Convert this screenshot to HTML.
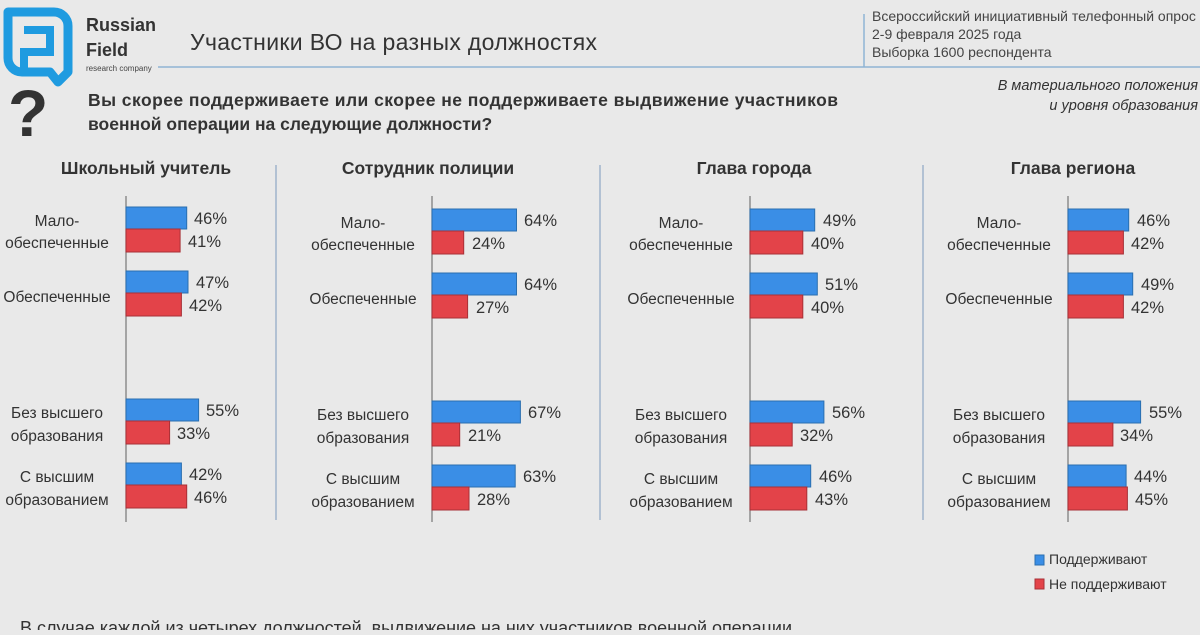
<!DOCTYPE html>
<html><head><meta charset="utf-8"><style>
html,body{margin:0;padding:0;background:#e9e9e9;}
body{width:1200px;height:630px;overflow:hidden;position:relative;font-family:"Liberation Sans","DejaVu Sans",sans-serif;}
</style></head><body>
<svg width="1200" height="630" viewBox="0 0 1200 630" xmlns="http://www.w3.org/2000/svg" font-family="Liberation Sans, DejaVu Sans, sans-serif">
<rect width="1200" height="630" fill="#e9e9e9"/>
<path d="M8 12 h46 a14 14 0 0 1 14 14 v46 l-10 10 l-8 -10 h-28 a14 14 0 0 1 -14 -14 z" fill="none" stroke="#1f9be0" stroke-width="9" stroke-linejoin="round"/>
<path d="M24 30 h26 v22 h-26 v20" fill="none" stroke="#1f9be0" stroke-width="8"/>
<text x="86" y="31" font-size="18" font-weight="bold" fill="#333">Russian</text>
<text x="86" y="56" font-size="18" font-weight="bold" fill="#333">Field</text>
<text x="86" y="71" font-size="8" fill="#444">research company</text>
<text x="190" y="50" font-size="23" fill="#333" textLength="407">Участники ВО на разных должностях</text>
<line x1="158" y1="67" x2="1200" y2="67" stroke="#8fb4d4" stroke-width="1.5"/>
<line x1="864" y1="14" x2="864" y2="67" stroke="#8fb4d4" stroke-width="1.5"/>
<text x="872" y="21" font-size="14" fill="#444">Всероссийский инициативный телефонный опрос</text>
<text x="872" y="39" font-size="14" fill="#444">2-9 февраля 2025 года</text>
<text x="872" y="57" font-size="14" fill="#444">Выборка 1600 респондента</text>
<text x="1198" y="90" font-size="14.5" font-style="italic" fill="#333" text-anchor="end">В материального положения</text>
<text x="1198" y="110" font-size="14.5" font-style="italic" fill="#333" text-anchor="end">и уровня образования</text>
<text x="8" y="136" font-size="66" font-weight="bold" fill="#333">?</text>
<text x="88" y="106" font-size="17.5" font-weight="bold" fill="#333" textLength="750">Вы скорее поддерживаете или скорее не поддерживаете выдвижение участников</text>
<text x="88" y="130" font-size="17.5" font-weight="bold" fill="#333">военной операции на следующие должности?</text>
<g font-size="17.5" font-weight="bold" fill="#333" text-anchor="middle">
<text x="146" y="174">Школьный учитель</text>
<text x="428" y="174">Сотрудник полиции</text>
<text x="754" y="174">Глава города</text>
<text x="1073" y="174">Глава региона</text>
</g>
<g stroke="#9fb4cc" stroke-width="1.5">
<line x1="276" y1="165" x2="276" y2="520"/><line x1="600" y1="165" x2="600" y2="520"/><line x1="923" y1="165" x2="923" y2="520"/>
</g>
<defs>
<g id="lbl" font-size="15.5" fill="#333" text-anchor="middle">
<text x="-69" y="226">Мало-</text><text x="-69" y="248">обеспеченные</text>
<text x="-69" y="302">Обеспеченные</text>
<text x="-69" y="418">Без высшего</text><text x="-69" y="441">образования</text>
<text x="-69" y="482">С высшим</text><text x="-69" y="505">образованием</text>
</g>
</defs>
<g transform="translate(126,0)" font-size="16.5" fill="#333">
<line x1="0" y1="196" x2="0" y2="522" stroke="#777" stroke-width="1.2"/>
<use href="#lbl"/>
<g stroke="#2a6fb0" stroke-width="1"><rect x="0" y="207" width="60.7" height="22" fill="#3a8ee6"/><rect x="0" y="271" width="62" height="22" fill="#3a8ee6"/><rect x="0" y="399" width="72.6" height="22" fill="#3a8ee6"/><rect x="0" y="463" width="55.4" height="22" fill="#3a8ee6"/></g>
<g stroke="#a83036" stroke-width="1"><rect x="0" y="229" width="54.1" height="23" fill="#e34349"/><rect x="0" y="293" width="55.4" height="23" fill="#e34349"/><rect x="0" y="421" width="43.6" height="23" fill="#e34349"/><rect x="0" y="485" width="60.7" height="23" fill="#e34349"/></g>
<text x="68" y="224">46%</text><text x="62" y="247">41%</text><text x="70" y="288">47%</text><text x="63" y="311">42%</text>
<text x="80" y="416">55%</text><text x="51" y="439">33%</text><text x="63" y="480">42%</text><text x="68" y="503">46%</text>
</g>
<g transform="translate(432,2)" font-size="16.5" fill="#333">
<line x1="0" y1="194" x2="0" y2="520" stroke="#777" stroke-width="1.2"/>
<use href="#lbl"/>
<g stroke="#2a6fb0"><rect x="0" y="207" width="84.5" height="22" fill="#3a8ee6"/><rect x="0" y="271" width="84.5" height="22" fill="#3a8ee6"/><rect x="0" y="399" width="88.4" height="22" fill="#3a8ee6"/><rect x="0" y="463" width="83.2" height="22" fill="#3a8ee6"/></g>
<g stroke="#a83036"><rect x="0" y="229" width="31.7" height="23" fill="#e34349"/><rect x="0" y="293" width="35.6" height="23" fill="#e34349"/><rect x="0" y="421" width="27.7" height="23" fill="#e34349"/><rect x="0" y="485" width="37" height="23" fill="#e34349"/></g>
<text x="92" y="224">64%</text><text x="40" y="247">24%</text><text x="92" y="288">64%</text><text x="44" y="311">27%</text>
<text x="96" y="416">67%</text><text x="36" y="439">21%</text><text x="91" y="480">63%</text><text x="45" y="503">28%</text>
</g>
<g transform="translate(750,2)" font-size="16.5" fill="#333">
<line x1="0" y1="194" x2="0" y2="520" stroke="#777" stroke-width="1.2"/>
<use href="#lbl"/>
<g stroke="#2a6fb0"><rect x="0" y="207" width="64.7" height="22" fill="#3a8ee6"/><rect x="0" y="271" width="67.3" height="22" fill="#3a8ee6"/><rect x="0" y="399" width="73.9" height="22" fill="#3a8ee6"/><rect x="0" y="463" width="60.7" height="22" fill="#3a8ee6"/></g>
<g stroke="#a83036"><rect x="0" y="229" width="52.8" height="23" fill="#e34349"/><rect x="0" y="293" width="52.8" height="23" fill="#e34349"/><rect x="0" y="421" width="42.2" height="23" fill="#e34349"/><rect x="0" y="485" width="56.8" height="23" fill="#e34349"/></g>
<text x="73" y="224">49%</text><text x="61" y="247">40%</text><text x="75" y="288">51%</text><text x="61" y="311">40%</text>
<text x="82" y="416">56%</text><text x="50" y="439">32%</text><text x="69" y="480">46%</text><text x="65" y="503">43%</text>
</g>
<g transform="translate(1068,2)" font-size="16.5" fill="#333">
<line x1="0" y1="194" x2="0" y2="520" stroke="#777" stroke-width="1.2"/>
<use href="#lbl"/>
<g stroke="#2a6fb0"><rect x="0" y="207" width="60.7" height="22" fill="#3a8ee6"/><rect x="0" y="271" width="64.7" height="22" fill="#3a8ee6"/><rect x="0" y="399" width="72.6" height="22" fill="#3a8ee6"/><rect x="0" y="463" width="58.1" height="22" fill="#3a8ee6"/></g>
<g stroke="#a83036"><rect x="0" y="229" width="55.4" height="23" fill="#e34349"/><rect x="0" y="293" width="55.4" height="23" fill="#e34349"/><rect x="0" y="421" width="44.9" height="23" fill="#e34349"/><rect x="0" y="485" width="59.4" height="23" fill="#e34349"/></g>
<text x="69" y="224">46%</text><text x="63" y="247">42%</text><text x="73" y="288">49%</text><text x="63" y="311">42%</text>
<text x="81" y="416">55%</text><text x="52" y="439">34%</text><text x="66" y="480">44%</text><text x="67" y="503">45%</text>
</g>
<rect x="1035" y="555" width="9" height="10" fill="#3a8ee6" stroke="#2a6fb0"/>
<text x="1049" y="564" font-size="14" fill="#333">Поддерживают</text>
<rect x="1035" y="579" width="9" height="10" fill="#e34349" stroke="#a83036"/>
<text x="1049" y="589" font-size="14" fill="#333">Не поддерживают</text>
<text x="20" y="634" font-size="18" fill="#333" textLength="772">В случае каждой из четырех должностей, выдвижение на них участников военной операции</text>
</svg>
</body></html>
